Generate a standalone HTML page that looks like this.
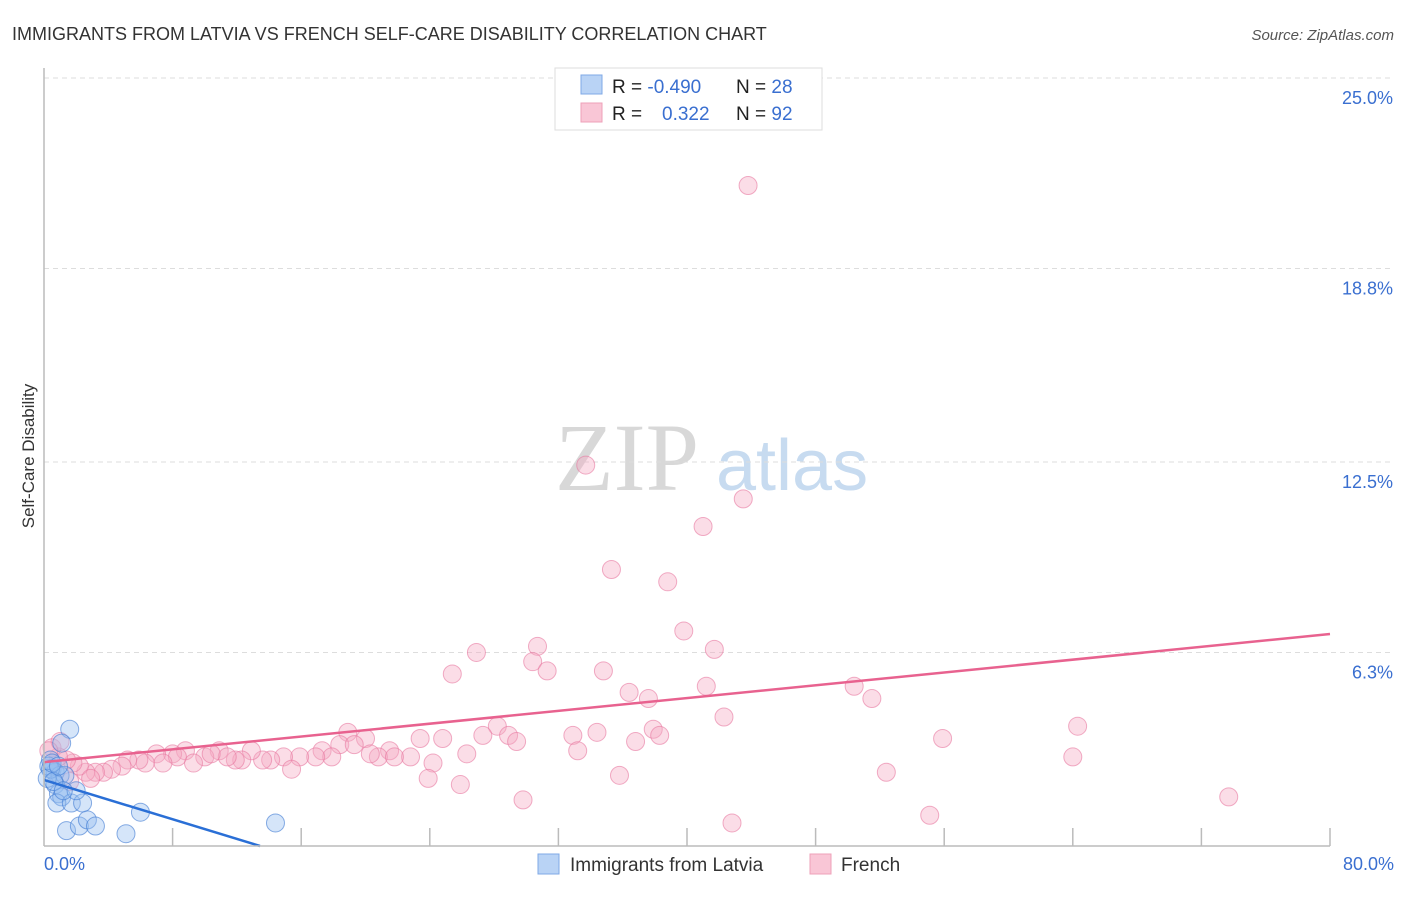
<!DOCTYPE html>
<html><head><meta charset="utf-8"><style>
body{margin:0;background:#fff;font-family:"Liberation Sans",sans-serif}
</style></head><body>
<svg width="1406" height="892" id="svg" xmlns="http://www.w3.org/2000/svg" font-family="Liberation Sans, sans-serif">
<text x="12" y="40" font-size="18" fill="#333">IMMIGRANTS FROM LATVIA VS FRENCH SELF-CARE DISABILITY CORRELATION CHART</text>
<text x="1394" y="40" font-size="15" fill="#555" font-style="italic" text-anchor="end">Source: ZipAtlas.com</text>
<text x="34" y="456" font-size="17" fill="#333" text-anchor="middle" transform="rotate(-90 34 456)">Self-Care Disability</text>
<text x="555" y="490" font-size="96" fill="#d8d8d8" font-family="Liberation Serif, serif">ZIP</text>
<text x="716" y="490" font-size="72" fill="#c7dbf0">atlas</text>
<g id="grid"></g><g id="pts"></g><g id="lines"></g>
<line x1="44" y1="68" x2="44" y2="846" stroke="#bbb" stroke-width="1.5"/>
<line x1="44" y1="846" x2="1330" y2="846" stroke="#bbb" stroke-width="1.5"/>
<text x="44" y="870" font-size="18" fill="#3a6fd0">0.0%</text>
<text x="1394" y="870" font-size="18" fill="#3a6fd0" text-anchor="end">80.0%</text>
<g>
<rect x="555" y="68" width="267" height="62" fill="#fff" stroke="#ddd"/>
<rect x="581" y="75" width="21" height="19" fill="#b9d3f5" stroke="#7fa8e6"/>
<rect x="581" y="103" width="21" height="19" fill="#f9c6d6" stroke="#eea0b8"/>
<text x="612" y="93" font-size="19" fill="#222">R = <tspan fill="#3a6fd0">-0.490</tspan><tspan x="736">N = </tspan><tspan fill="#3a6fd0">28</tspan></text>
<text x="612" y="120" font-size="19" fill="#222">R = <tspan x="662" fill="#3a6fd0">0.322</tspan><tspan x="736">N = </tspan><tspan fill="#3a6fd0">92</tspan></text>
</g>
<g>
<rect x="538" y="854" width="21" height="20" fill="#b9d3f5" stroke="#7fa8e6"/>
<text x="570" y="871" font-size="19" fill="#333">Immigrants from Latvia</text>
<rect x="810" y="854" width="21" height="20" fill="#f9c6d6" stroke="#eea0b8"/>
<text x="841" y="871" font-size="19" fill="#333">French</text>
</g>
</svg>
<script>
const yTicks=[25,18.8,12.5,6.3];
const yTickLabels=["25.0%","18.8%","12.5%","6.3%"];
const xTicks=[8,16,24,32,40,48,56,64,72,80];
const frenchX=[43.8,33.7,43.5,41.0,35.3,38.8,39.8,30.7,26.9,41.7,30.4,34.8,31.3,25.4,41.2,36.4,37.6,50.4,51.5,42.3,64.3,28.2,27.3,28.9,32.9,34.4,37.9,38.3,55.9,36.8,29.4,33.2,24.8,23.4,18.9,20.0,18.4,19.3,26.3,24.2,22.8,21.5,20.8,21.8,20.3,17.3,17.9,16.9,15.9,14.9,15.4,14.1,13.6,12.9,12.3,11.9,10.9,11.4,10.0,10.4,8.8,9.3,8.0,8.3,7.0,7.4,6.3,5.9,5.2,4.85,4.2,3.7,3.2,2.6,2.2,1.8,1.4,0.9,0.5,1.0,52.4,64.0,73.7,55.1,42.8,29.8,25.9,23.9,35.8,1.6,2.9,0.3];
const frenchY=[21.5,12.4,11.3,10.4,9.0,8.6,7.0,6.5,6.3,6.4,6.0,5.7,5.7,5.6,5.2,5.0,4.8,5.2,4.8,4.2,3.9,3.9,3.6,3.6,3.6,3.7,3.8,3.6,3.5,3.4,3.4,3.1,3.5,3.5,3.7,3.5,3.3,3.3,3.0,2.7,2.9,3.1,2.9,2.9,3.0,3.1,2.9,2.9,2.9,2.9,2.5,2.8,2.8,3.1,2.8,2.8,3.1,2.9,2.9,3.0,3.1,2.7,3.0,2.9,3.0,2.7,2.7,2.8,2.8,2.6,2.5,2.4,2.4,2.4,2.6,2.7,2.8,2.9,3.2,3.4,2.4,2.9,1.6,1.0,0.75,1.5,2.0,2.2,2.3,2.1,2.2,3.1];
const latviaX=[1.6,1.1,0.4,0.5,0.7,0.3,1.0,1.3,0.7,0.9,1.1,0.8,1.7,2.4,2.0,6.0,1.4,2.2,2.7,3.2,5.1,14.4,0.4,0.2,0.6,1.2,0.5,0.9];
const latviaY=[3.8,3.35,2.8,2.5,2.4,2.6,2.3,2.3,2.0,1.7,1.6,1.4,1.4,1.4,1.8,1.1,0.5,0.65,0.85,0.65,0.4,0.75,2.5,2.2,2.1,1.8,2.7,2.6];
const frenchTrend=[2.73,6.9]; // y at x=0 and x=80
const latviaTrend=[2.15,-0.16]; // intercept, slope
const X=v=>44+v*16.075, Y=v=>846-v*30.72;
const NS="http://www.w3.org/2000/svg";
function mk(t,a,p){const e=document.createElementNS(NS,t);for(const k in a)e.setAttribute(k,a[k]);p.appendChild(e);return e;}
const g=document.getElementById('grid');
yTicks.forEach((t,i)=>{
 const l=mk('line',{x1:44,x2:1394,y1:Y(t),y2:Y(t),stroke:'#ddd','stroke-dasharray':'5,4'},g);
 
 
 const tx=mk('text',{x:1393,y:Y(t)+26,'font-size':18,fill:'#3a6fd0','text-anchor':'end'},g);
 tx.textContent=yTickLabels[i];
 
 
});
xTicks.forEach(t=>{
 const l=mk('line',{x1:X(t),x2:X(t),y1:828,y2:846,stroke:'#bbb','stroke-width':1.5},g);
 
 
});
const p=document.getElementById('pts');
frenchX.forEach((x,i)=>{
 const c=mk('circle',{cx:X(x),cy:Y(frenchY[i]),r:9,fill:'rgba(246,170,195,0.4)',stroke:'rgba(232,120,160,0.6)','stroke-width':1},p);
 
 
});
latviaX.forEach((x,i)=>{
 const c=mk('circle',{cx:X(x),cy:Y(latviaY[i]),r:9,fill:'rgba(150,190,240,0.4)',stroke:'rgba(60,120,210,0.6)','stroke-width':1},p);
 
 
});
const L=document.getElementById('lines');
const fl=mk('line',{x1:X(0),y1:Y(frenchTrend[0]),x2:X(80),y2:Y(frenchTrend[1]),stroke:'#e8628f','stroke-width':2.5},L);


const xe=-latviaTrend[0]/latviaTrend[1];
const bl=mk('line',{x1:X(0),y1:Y(latviaTrend[0]),x2:X(xe),y2:Y(0),stroke:'#2a6fd6','stroke-width':2.5},L);


</script>
</body></html>
